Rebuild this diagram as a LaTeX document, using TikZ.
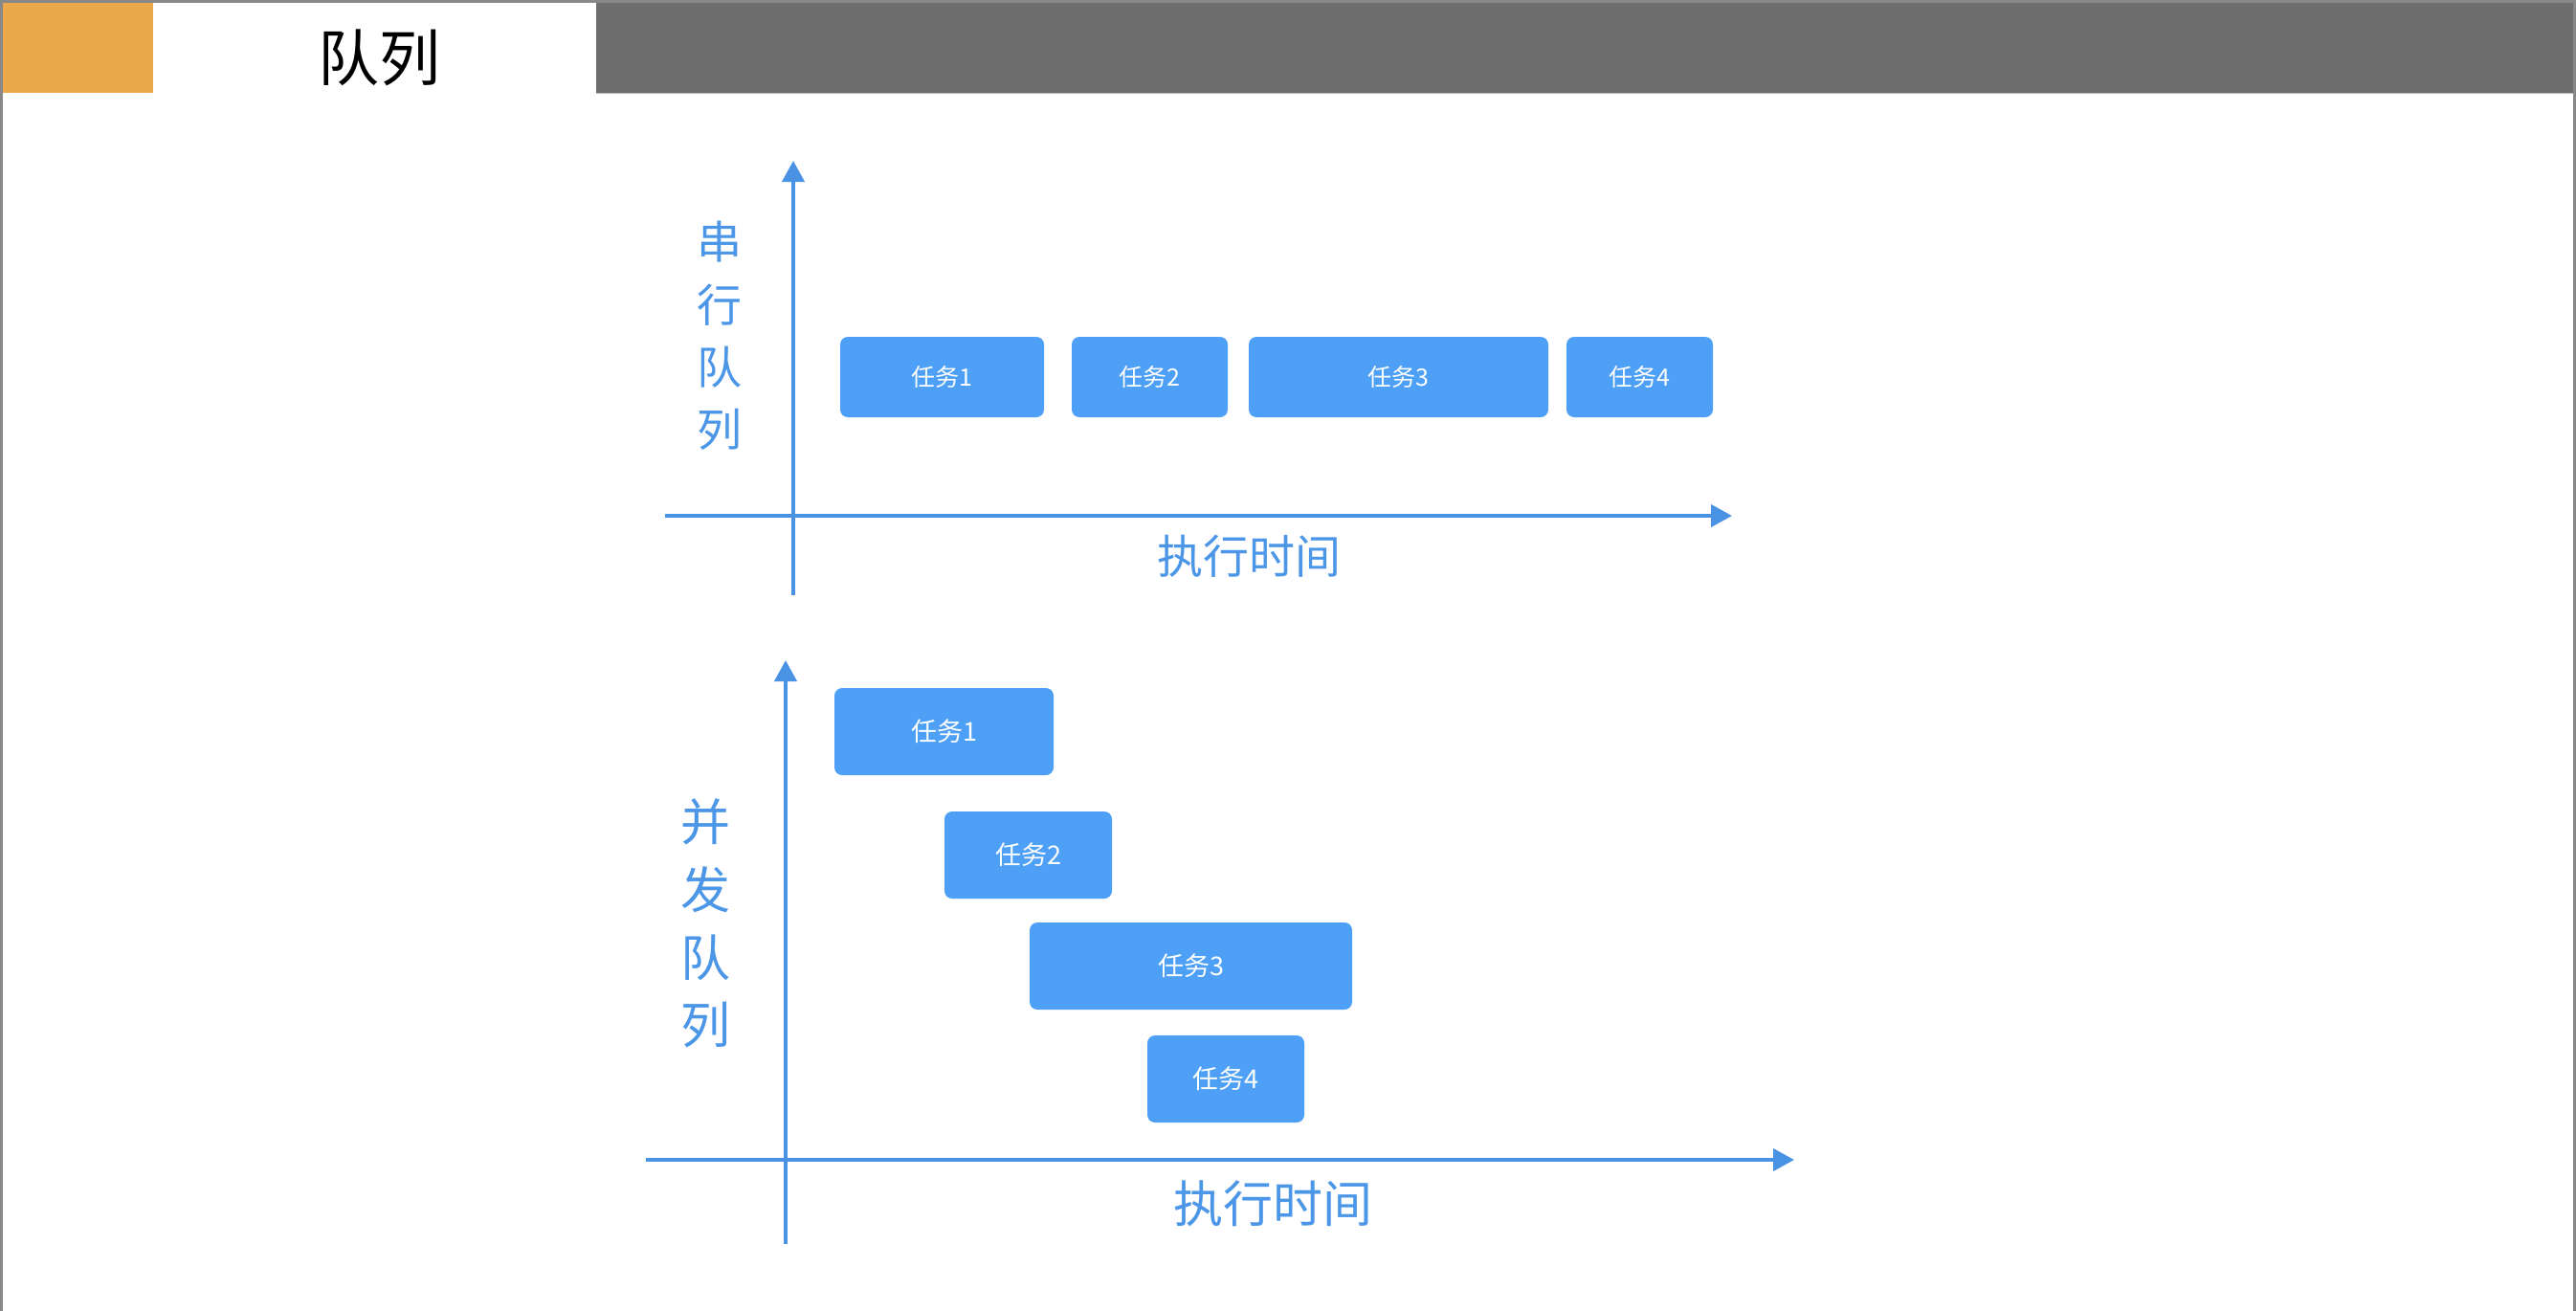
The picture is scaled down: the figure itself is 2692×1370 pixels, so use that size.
\documentclass[tikz,border=0pt]{standalone}
\usepackage{fontspec}
\setmainfont{Noto Sans CJK SC}
\usetikzlibrary{arrows.meta}
\definecolor{boxblue}{RGB}{77,160,245}
\definecolor{axisblue}{RGB}{74,146,228}
\definecolor{labelblue}{RGB}{76,150,232}
\definecolor{hdrorange}{RGB}{235,168,74}
\definecolor{hdrgray}{RGB}{109,109,109}
\definecolor{edgegray}{RGB}{136,136,136}
\tikzset{
  taskbox/.style={fill=boxblue, rounded corners=8pt, inner sep=0pt, text=white},
  smalltask/.style={taskbox, font=\fontsize{25}{25}\selectfont},
  bigtask/.style={taskbox, font=\fontsize{27}{27}\selectfont},
  axisline/.style={draw=axisblue, line width=4pt, -{Triangle[length=22pt,width=23pt]}},
  vlabel/.style={text=labelblue, align=center, inner sep=0pt},
}
\begin{document}
\begin{tikzpicture}[x=1pt,y=-1pt]
\useasboundingbox (0,0) rectangle (2692,1370);
\fill[white] (0,0) rectangle (2692,1370);
% header
\fill[hdrorange] (2,2) rectangle (160,97);
\fill[hdrgray] (623,2) rectangle (2690,97);
\draw[line width=1pt, draw=edgegray!60] (623,97.5) -- (2690,97.5);
\node[font=\fontsize{64}{64}\selectfont, text=black, inner sep=0pt] (title) at (396,60) {队列};
% frame
\draw[edgegray, line width=3pt] (1.5,1370) -- (1.5,1.5) -- (2690.5,1.5) -- (2690.5,1370);

% ---- upper chart: serial queue
\coordinate (u0) at (829,622);
\coordinate (uy) at (829,168);
\coordinate (ux0) at (695,539);
\coordinate (ux) at (1810,539);
\draw[axisline] (u0) -- (uy);
\draw[axisline] (ux0) -- (ux);
\node[vlabel, font=\fontsize{47}{65.3}\selectfont] (ulab) at (752,351) {串\\行\\队\\列};
\node[text=labelblue, font=\fontsize{48}{48}\selectfont, inner sep=0pt] (utime) at (1305,581) {执行时间};
\node[smalltask, minimum width=213pt, minimum height=84pt] (s1) at (984.5,394) {任务1};
\node[smalltask, minimum width=163pt, minimum height=84pt] (s2) at (1201.5,394) {任务2};
\node[smalltask, minimum width=313pt, minimum height=84pt] (s3) at (1461.5,394) {任务3};
\node[smalltask, minimum width=153pt, minimum height=84pt] (s4) at (1713.5,394) {任务4};

% ---- lower chart: concurrent queue
\coordinate (l0) at (821,1300);
\coordinate (ly) at (821,690);
\coordinate (lx0) at (675,1212);
\coordinate (lx) at (1875,1212);
\draw[axisline] (l0) -- (ly);
\draw[axisline] (lx0) -- (lx);
\node[vlabel, font=\fontsize{52}{70.7}\selectfont] (llab) at (737,965) {并\\发\\队\\列};
\node[text=labelblue, font=\fontsize{52}{52}\selectfont, inner sep=0pt] (ltime) at (1330,1258) {执行时间};
\node[bigtask, minimum width=229pt, minimum height=91pt] (c1) at (986.5,764.5) {任务1};
\node[bigtask, minimum width=175pt, minimum height=91pt] (c2) at (1074.5,893.5) {任务2};
\node[bigtask, minimum width=337pt, minimum height=91pt] (c3) at (1244.5,1009.5) {任务3};
\node[bigtask, minimum width=164pt, minimum height=91pt] (c4) at (1281,1127.5) {任务4};
\end{tikzpicture}
\end{document}
